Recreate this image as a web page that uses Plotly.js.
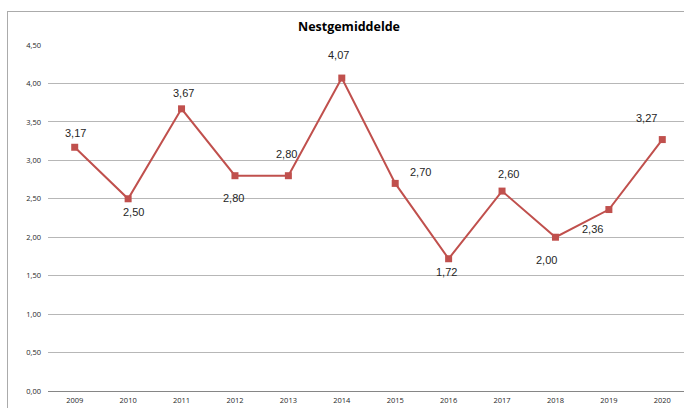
<!DOCTYPE html>
<html>
<head>
<meta charset="utf-8">
<script src="https://cdn.plot.ly/plotly-3.0.1.min.js"></script>
<style>
  html, body { margin: 0; padding: 0; width: 684px; height: 408px; overflow: hidden; background: #fff; }
  #frame { position: absolute; left: 7px; top: 11px; width: 720px; height: 440px; border: 1px solid #ababab; box-sizing: border-box; }
  #chart { position: absolute; left: 0; top: 0; width: 700px; height: 421px; }
</style>
</head>
<body>
<div id="frame"></div>
<div id="chart"></div>
<script>
// Data
const years = ['2009','2010','2011','2012','2013','2014','2015','2016','2017','2018','2019','2020'];
const nestgemiddelde = [3.17, 2.50, 3.67, 2.80, 2.80, 4.07, 2.70, 1.72, 2.60, 2.00, 2.36, 3.27];
const chartTitle = 'Nestgemiddelde';
const yTickValues = [0, 0.5, 1, 1.5, 2, 2.5, 3, 3.5, 4, 4.5];

// Label offsets (style only, pixels relative to each point)
const labelDx = [1, 5, 2, -1, -2, -3, 25, -2, 6, -9, -16, -16];
const labelDy = [14, -13, 16, -22, 22, 23, 11, -13, 17, -23, -19, 22];

const fmt = v => v.toFixed(2).replace('.', ',');

const trace = {
  type: 'scatter',
  mode: 'lines+markers',
  x: years,
  y: nestgemiddelde,
  line: { color: '#C0504D', width: 2 },
  marker: { symbol: 'square', size: 7, color: '#C0504D' },
  hoverinfo: 'skip'
};

// category index position for each year
const annotations = years.map((yr, i) => ({
  x: years.indexOf(yr), y: nestgemiddelde[i], xref: 'x', yref: 'y',
  text: fmt(nestgemiddelde[i]), showarrow: false,
  xshift: labelDx[i], yshift: labelDy[i],
  font: { family: 'Liberation Sans, Arial, sans-serif', size: 11, color: '#262626' }
}));

const layout = {
  width: 700, height: 421,
  margin: { l: 48, r: 11, t: 45, b: 30 },
  paper_bgcolor: 'rgba(0,0,0,0)',
  plot_bgcolor: 'rgba(0,0,0,0)',
  showlegend: false,
  separators: ',.',
  title: {
    text: '<b>' + chartTitle + '</b>',
    xref: 'container', x: 349 / 700, xanchor: 'center',
    yref: 'container', y: 1 - 27 / 421, yanchor: 'middle',
    font: { family: 'Open Sans, sans-serif', size: 12.5, color: '#000' }
  },
  xaxis: {
    type: 'category',
    range: [-0.5, 11.5],
    showgrid: false,
    showline: true, linecolor: '#868686', linewidth: 1,
    ticks: '', zeroline: false,
    tickfont: { family: 'Open Sans, sans-serif', size: 7.5, color: '#262626' },
    ticklabelstandoff: 2
  },
  yaxis: {
    range: [0, 4.5],
    tickvals: yTickValues,
    tickformat: '.2f',
    showgrid: true, gridcolor: '#b7b7b7', gridwidth: 1,
    zeroline: false, showline: false, ticks: '',
    tickfont: { family: 'Open Sans, sans-serif', size: 7.5, color: '#262626' },
    ticklabelstandoff: 6
  },
  annotations: annotations
};

Plotly.newPlot('chart', [trace], layout, { staticPlot: true, displayModeBar: false });
</script>
</body>
</html>
